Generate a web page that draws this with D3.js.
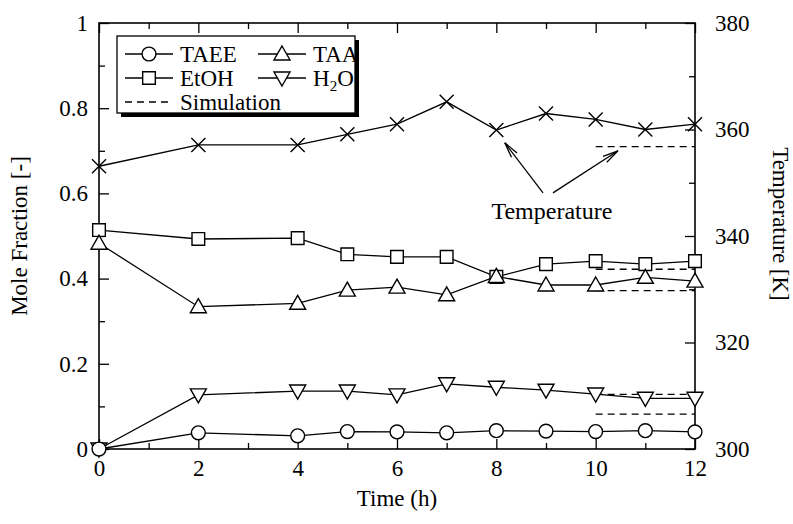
<!DOCTYPE html>
<html>
<head>
<meta charset="utf-8">
<script src="https://cdn.jsdelivr.net/npm/d3@7"></script>
<style>
  body { margin: 0; background: #fff; }
  svg text { font-family: "Liberation Serif", "Times New Roman", serif !important; }
</style>
</head>
<body>
<svg id="chart" width="793" height="524"></svg>
<script>
// Données
const times = [0, 2, 4, 5, 6, 7, 8, 9, 10, 11, 12];
const taee = [0.0, 0.038, 0.031, 0.041, 0.040, 0.038, 0.043, 0.042, 0.041, 0.043, 0.040];
const taa = [0.483, 0.334, 0.342, 0.373, 0.380, 0.362, 0.405, 0.385, 0.385, 0.403, 0.394];
const etoh = [0.514, 0.493, 0.495, 0.457, 0.451, 0.451, 0.404, 0.434, 0.441, 0.434, 0.441];
const h2o = [0.0, 0.127, 0.136, 0.136, 0.127, 0.153, 0.145, 0.138, 0.129, 0.119, 0.119];
const temperature = [353.1, 357.1, 357.1, 359.1, 361.0, 365.2, 359.9, 363.0, 361.9, 360.0, 361.0];

// Simulation (lignes pointillées, de 10 h à 12 h)
const simTimes = [10, 12];
const simFractions = [0.422, 0.372, 0.128, 0.082];
const simTemperature = 356.8;

// Graduations
const xMajor = [0, 2, 4, 6, 8, 10, 12];
const xMinor = [1, 3, 5, 7, 9, 11];
const yMajor = [0, 0.2, 0.4, 0.6, 0.8, 1];
const yMinor = [0.1, 0.3, 0.5, 0.7, 0.9];
const tMajor = [300, 320, 340, 360, 380];
const tMinor = [310, 330, 350, 370];

const width = 793, height = 524;
const margin = { top: 23, right: 98, bottom: 75, left: 99 };
const innerW = width - margin.left - margin.right;
const innerH = height - margin.top - margin.bottom;

const serif = "Liberation Serif";
const svg = d3.select("#chart").attr("font-family", serif);
const g = svg.append("g").attr("transform", `translate(${margin.left},${margin.top})`);

const x = d3.scaleLinear().domain([0, 12]).range([0, innerW]);
const y = d3.scaleLinear().domain([0, 1]).range([innerH, 0]);
const yT = d3.scaleLinear().domain([300, 380]).range([innerH, 0]);

const fontSize = 23;
const fmt = d3.format("~g");

// Axes avec graduations intérieures
function drawAxis(axisFn, scale, major, minor, transform, labels, padding) {
    const a = g.append("g").attr("transform", transform);
    a.call(axisFn(scale).tickValues(major).tickSize(-10).tickPadding(padding)
        .tickFormat(labels ? fmt : ""));
    const b = g.append("g").attr("transform", transform);
    b.call(axisFn(scale).tickValues(minor).tickSize(-6).tickFormat(""));
    [a, b].forEach(s => {
        s.attr("font-family", serif).attr("font-size", fontSize);
        s.select(".domain").remove();
        s.selectAll("line").attr("stroke", "#000").attr("stroke-width", 1.3);
        s.selectAll("text").attr("fill", "#000");
    });
}
drawAxis(d3.axisBottom, x, xMajor, xMinor, `translate(0,${innerH})`, true, 11);
drawAxis(d3.axisTop, x, xMajor, xMinor, "translate(0,0)", false, 0);
drawAxis(d3.axisLeft, y, yMajor, yMinor, "translate(0,0)", true, 11);
drawAxis(d3.axisRight, yT, tMajor, tMinor, `translate(${innerW},0)`, true, 20);

// Cadre
g.append("rect")
    .attr("width", innerW).attr("height", innerH)
    .attr("fill", "none").attr("stroke", "#000").attr("stroke-width", 1.6);

// Titres des axes
svg.append("text")
    .attr("x", margin.left + innerW / 2).attr("y", 506)
    .attr("text-anchor", "middle").attr("font-size", fontSize)
    .text("Time (h)");
svg.append("text")
    .attr("transform", `translate(27,${margin.top + innerH / 2}) rotate(-90)`)
    .attr("text-anchor", "middle").attr("font-size", fontSize)
    .text("Mole Fraction [-]");
svg.append("text")
    .attr("transform", `translate(773,224) rotate(90)`)
    .attr("text-anchor", "middle").attr("font-size", fontSize)
    .text("Temperature [K]");

// Lignes de simulation
simFractions.forEach(v => {
    g.append("line")
        .attr("x1", x(simTimes[0])).attr("x2", x(simTimes[1]))
        .attr("y1", y(v)).attr("y2", y(v))
        .attr("stroke", "#000").attr("stroke-width", 1.3).attr("stroke-dasharray", "7,5");
});
g.append("line")
    .attr("x1", x(simTimes[0])).attr("x2", x(simTimes[1]))
    .attr("y1", yT(simTemperature)).attr("y2", yT(simTemperature))
    .attr("stroke", "#000").attr("stroke-width", 1.3).attr("stroke-dasharray", "7,5");

// Symboles
const symCircle = d3.symbol().type(d3.symbolCircle).size(150)();
const symSquare = d3.symbol().type(d3.symbolSquare).size(160)();
const symTriUp = "M0,-8L8,6L-8,6Z";
const symTriDown = "M0,8L8,-6L-8,-6Z";
const symCross = "M-7,-7L7,7M-7,7L7,-7";

const series = [
    { values: temperature, scale: yT, path: symCross },
    { values: etoh, scale: y, path: symSquare },
    { values: taa, scale: y, path: symTriUp },
    { values: h2o, scale: y, path: symTriDown },
    { values: taee, scale: y, path: symCircle }
];

series.forEach(s => {
    const pts = times.map((t, i) => [t, s.values[i]]);
    g.append("path")
        .datum(pts)
        .attr("fill", "none").attr("stroke", "#000").attr("stroke-width", 1.3)
        .attr("d", d3.line().x(d => x(d[0])).y(d => s.scale(d[1])));
});
series.forEach(s => {
    g.selectAll(null)
        .data(times.map((t, i) => [t, s.values[i]]))
        .join("path")
        .attr("transform", d => `translate(${x(d[0])},${s.scale(d[1])})`)
        .attr("d", s.path)
        .attr("fill", s.path === symCross ? "none" : "#fff")
        .attr("stroke", "#000").attr("stroke-width", 1.4);
});

// Annotation "Temperature" avec flèches
const arrows = [
    { from: [8.94, 348.1], to: [8.17, 357.5] },
    { from: [9.14, 348.1], to: [10.45, 356.0] }
];
arrows.forEach(a => {
    const x1 = x(a.from[0]), y1 = yT(a.from[1]);
    const x2 = x(a.to[0]), y2 = yT(a.to[1]);
    const ang = Math.atan2(y2 - y1, x2 - x1);
    const L = 16, w = 0.22;
    g.append("line").attr("x1", x1).attr("y1", y1).attr("x2", x2).attr("y2", y2)
        .attr("stroke", "#000").attr("stroke-width", 1.3);
    const p1 = [x2 - L * Math.cos(ang - w), y2 - L * Math.sin(ang - w)];
    const p2 = [x2 - L * Math.cos(ang + w), y2 - L * Math.sin(ang + w)];
    g.append("path")
        .attr("d", `M${p1}L${x2},${y2}L${p2}`)
        .attr("fill", "none").attr("stroke", "#000").attr("stroke-width", 1.3);
});
g.append("text")
    .attr("x", x(9.12)).attr("y", yT(343.2))
    .attr("text-anchor", "middle").attr("font-size", 24)
    .text("Temperature");

// Légende
const lg = svg.append("g").attr("transform", "translate(117,36)");
const lgW = 238, lgH = 77;
lg.append("rect").attr("x", 4).attr("y", 4).attr("width", lgW).attr("height", lgH).attr("fill", "#000");
lg.append("rect").attr("width", lgW).attr("height", lgH)
    .attr("fill", "#fff").attr("stroke", "#000").attr("stroke-width", 1.3);

const legendItems = [
    { label: "TAEE", path: symCircle, col: 0, row: 0 },
    { label: "TAA", path: symTriUp, col: 1, row: 0 },
    { label: "EtOH", path: symSquare, col: 0, row: 1 },
    { label: "H2O", path: symTriDown, col: 1, row: 1 },
    { label: "Simulation", path: null, col: 0, row: 2 }
];
legendItems.forEach(it => {
    const ox = 8 + it.col * 133, oy = 18 + it.row * 24;
    lg.append("line").attr("x1", ox).attr("x2", ox + 48).attr("y1", oy).attr("y2", oy)
        .attr("stroke", "#000").attr("stroke-width", 1.3)
        .attr("stroke-dasharray", it.path ? null : "7,5");
    if (it.path) {
        lg.append("path").attr("transform", `translate(${ox + 24},${oy})`)
            .attr("d", it.path).attr("fill", "#fff").attr("stroke", "#000").attr("stroke-width", 1.4);
    }
    const t = lg.append("text").attr("x", ox + 55).attr("y", oy + 8).attr("font-size", 23);
    if (it.label === "H2O") {
        t.append("tspan").text("H");
        t.append("tspan").attr("font-size", 15).attr("dy", 5).text("2");
        t.append("tspan").attr("dy", -5).text("O");
    } else {
        t.text(it.label);
    }
});
</script>
</body>
</html>
